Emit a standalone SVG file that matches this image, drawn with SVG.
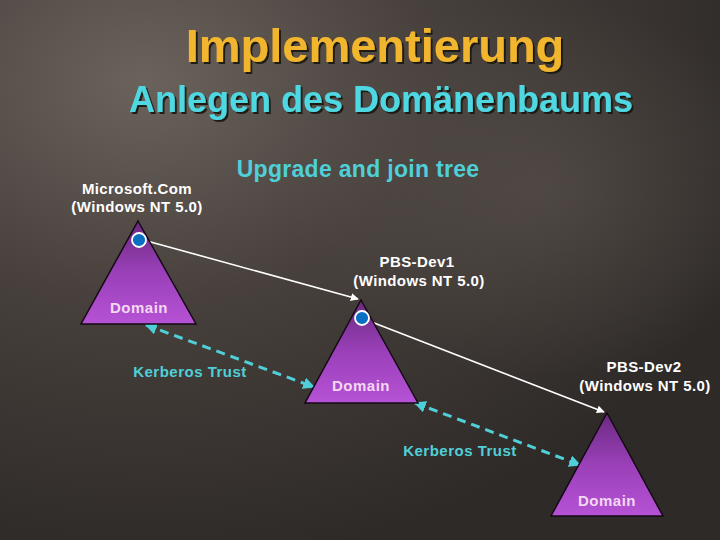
<svg xmlns="http://www.w3.org/2000/svg" width="720" height="540" viewBox="0 0 720 540">
<defs>
<radialGradient id="bg" cx="0.2" cy="0.15" r="0.9">
<stop offset="0" stop-color="#6b625c"/>
<stop offset="0.45" stop-color="#47403c"/>
<stop offset="1" stop-color="#2e2a28"/>
</radialGradient>
<radialGradient id="bg2" cx="0.75" cy="0.35" r="0.35">
<stop offset="0" stop-color="#5a524c" stop-opacity="0.6"/>
<stop offset="1" stop-color="#5a524c" stop-opacity="0"/>
</radialGradient>
<linearGradient id="tri" x1="0" y1="0" x2="0" y2="1">
<stop offset="0" stop-color="#6a2a80"/>
<stop offset="0.5" stop-color="#9a40b8"/>
<stop offset="1" stop-color="#b652d6"/>
</linearGradient>
<filter id="sh" x="-5%" y="-20%" width="110%" height="140%">
<feDropShadow dx="2" dy="2" stdDeviation="0.6" flood-color="#151210" flood-opacity="0.9"/>
</filter>
<marker id="wa" viewBox="0 0 10 10" refX="9" refY="5" markerWidth="8" markerHeight="8" markerUnits="userSpaceOnUse" orient="auto">
<path d="M0,0 L10,5 L0,10 z" fill="#ffffff"/>
</marker>
<marker id="ca" viewBox="0 0 10 10" refX="9" refY="5" markerWidth="4" markerHeight="4" orient="auto-start-reverse">
<path d="M0,0 L10,5 L0,10 z" fill="#4fd0d8"/>
</marker>
<style>
.t1{font-family:"Liberation Sans",Arial,sans-serif;font-weight:bold;font-size:47px;fill:#f2b52e;text-anchor:middle;filter:url(#sh)}
.t2{font-family:"Liberation Sans",Arial,sans-serif;font-weight:bold;font-size:36px;fill:#4fd8e2;text-anchor:middle;filter:url(#sh)}
.t3{font-family:"Liberation Sans",Arial,sans-serif;font-weight:bold;font-size:23px;fill:#4fd0d8;text-anchor:middle;letter-spacing:0.3px}
.lbl{font-family:"Liberation Sans",Arial,sans-serif;font-weight:bold;font-size:15px;fill:#ffffff;text-anchor:middle;letter-spacing:0.4px}
.dom{font-family:"Liberation Sans",Arial,sans-serif;font-weight:bold;font-size:15px;fill:#f2d8f2;text-anchor:middle;letter-spacing:0.5px}
.kt{font-family:"Liberation Sans",Arial,sans-serif;font-weight:bold;font-size:15px;fill:#4fd0d8;text-anchor:middle;letter-spacing:0.5px}
.tri{fill:url(#tri);stroke:#140814;stroke-width:1.5}
.dot{fill:#0a6fc0;stroke:#ffffff;stroke-width:1.8}
.wl{stroke:#ffffff;stroke-width:1.6;fill:none;marker-end:url(#wa)}
.cl{stroke:#4fd0d8;stroke-width:3;stroke-dasharray:9,6;fill:none;marker-start:url(#ca);marker-end:url(#ca)}
</style>
</defs>
<rect width="720" height="540" fill="url(#bg)"/>
<rect width="720" height="540" fill="url(#bg2)"/>
<g id="title">
<text class="t1" x="375" y="62">Implementierung</text>
<text class="t2" x="381" y="112">Anlegen des Domänenbaums</text>
<text class="t3" x="358" y="177">Upgrade and join tree</text>
</g>
<g id="connectors">
<line class="wl" x1="147" y1="241" x2="358" y2="299"/>
<line class="wl" x1="369" y1="321" x2="604" y2="412"/>
<line class="cl" x1="146" y1="325" x2="314" y2="387"/>
<line class="cl" x1="415" y1="403" x2="580" y2="465"/>
<text class="kt" x="190" y="377">Kerberos Trust</text>
<text class="kt" x="460" y="456">Kerberos Trust</text>
</g>
<g id="microsoft">
<polygon class="tri" points="138,221 196,324 81,324"/>
<circle class="dot" cx="139" cy="240" r="7"/>
<text class="lbl" x="137" y="194">Microsoft.Com</text>
<text class="lbl" x="137" y="212">(Windows NT 5.0)</text>
<text class="dom" x="139" y="313">Domain</text>
</g>
<g id="pbsdev1">
<polygon class="tri" points="361,300 418,403 305,403"/>
<circle class="dot" cx="362" cy="318" r="7"/>
<text class="lbl" x="417" y="267">PBS-Dev1</text>
<text class="lbl" x="419" y="286">(Windows NT 5.0)</text>
<text class="dom" x="361" y="391">Domain</text>
</g>
<g id="pbsdev2">
<polygon class="tri" points="607,413 663,516 551,516"/>
<text class="lbl" x="644" y="372">PBS-Dev2</text>
<text class="lbl" x="645" y="391">(Windows NT 5.0)</text>
<text class="dom" x="607" y="506">Domain</text>
</g>
</svg>
